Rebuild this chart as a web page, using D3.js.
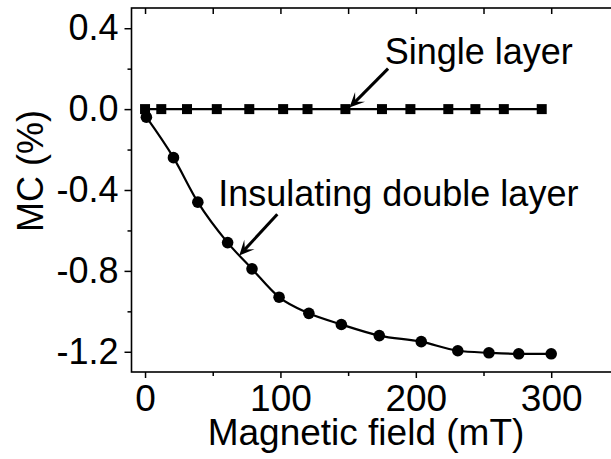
<!DOCTYPE html>
<html>
<head>
<meta charset="utf-8">
<script src="https://d3js.org/d3.v7.min.js"></script>
<style>
  body { margin: 0; background: #fff; }
  text { font-family: "Liberation Sans", Arial, sans-serif; fill: #000; }
</style>
</head>
<body>
<div id="chart"></div>
<script>
// single layer: MC stays at zero
var singleField = [0, 12, 31, 53, 77, 102, 120, 148, 175, 196, 224, 244, 265, 293];
var singleMC = [0, 0, 0, 0, 0, 0, 0, 0, 0, 0, 0, 0, 0, 0];

// insulating double layer
var doubleField = [1, 21, 39, 61, 79, 99, 121, 145, 173, 204, 231, 254, 276, 300];
var doubleMC = [-0.04, -0.24, -0.46, -0.66, -0.79, -0.93, -1.01, -1.065, -1.12, -1.15, -1.195, -1.205, -1.21, -1.21];

var xTicks = [0, 100, 200, 300];
var xMinor = [50, 150, 250];
var yTicks = [-1.2, -0.8, -0.4, 0.0, 0.4];
var yMinor = [-1.0, -0.6, -0.2, 0.2];

var width = 611, height = 459;

var x = d3.scaleLinear().domain([-10, 350]).range([131.5, 618.9]);
var y = d3.scaleLinear().domain([-1.3, 0.5]).range([372, 8]);

var svg = d3.select("#chart").append("svg")
    .attr("width", width)
    .attr("height", height);

// frame
svg.append("rect")
    .attr("x", x(-10))
    .attr("y", y(0.5))
    .attr("width", x(350) - x(-10))
    .attr("height", y(-1.3) - y(0.5))
    .attr("fill", "none")
    .attr("stroke", "#000")
    .attr("stroke-width", 1.6);

// bottom axis
var bottomAxis = d3.axisBottom(x)
    .tickValues(xTicks)
    .tickSize(6)
    .tickFormat(d3.format("d"));
var gx = svg.append("g")
    .attr("transform", `translate(0, ${y(-1.3)})`)
    .call(bottomAxis);
gx.select(".domain").remove();
gx.selectAll("line").attr("stroke-width", 1.5);
gx.selectAll("text")
    .attr("font-size", 37)
    .attr("dy", null)
    .attr("y", 38.5);

svg.append("g")
    .attr("transform", `translate(0, ${y(-1.3)})`)
    .call(d3.axisBottom(x).tickValues(xMinor).tickSize(4).tickFormat(""))
    .call(g => g.select(".domain").remove())
    .selectAll("line").attr("stroke-width", 1.5);

// top inner ticks
svg.append("g")
    .attr("transform", `translate(0, ${y(0.5)})`)
    .call(d3.axisBottom(x).tickValues(xTicks.concat(xMinor)).tickSize(6).tickFormat(""))
    .call(g => g.select(".domain").remove())
    .selectAll("line").attr("stroke-width", 1.5);

// left axis
var leftAxis = d3.axisLeft(y)
    .tickValues(yTicks)
    .tickSize(7)
    .tickPadding(6)
    .tickFormat(d3.format(".1f"));
var gy = svg.append("g")
    .attr("transform", `translate(${x(-10)}, 0)`)
    .call(leftAxis);
gy.select(".domain").remove();
gy.selectAll("line").attr("stroke-width", 1.5);
gy.selectAll("text")
    .attr("font-size", 36)
    .text(d => d3.format(".1f")(d).replace("−", "-"));

svg.append("g")
    .attr("transform", `translate(${x(-10)}, 0)`)
    .call(d3.axisLeft(y).tickValues(yMinor).tickSize(4).tickFormat(""))
    .call(g => g.select(".domain").remove())
    .selectAll("line").attr("stroke-width", 1.5);

// axis titles
svg.append("text")
    .attr("x", 366)
    .attr("y", 445)
    .attr("text-anchor", "middle")
    .attr("font-size", 37)
    .text("Magnetic field (mT)");

svg.append("text")
    .attr("transform", "translate(43, 171) rotate(-90)")
    .attr("text-anchor", "middle")
    .attr("font-size", 36)
    .text("MC (%)");

// series
var singleData = singleField.map((f, i) => ({ f: f, mc: singleMC[i] }));
var doubleData = doubleField.map((f, i) => ({ f: f, mc: doubleMC[i] }));

svg.append("path")
    .datum(singleData)
    .attr("fill", "none")
    .attr("stroke", "#000")
    .attr("stroke-width", 2.2)
    .attr("d", d3.line().x(d => x(d.f)).y(d => y(d.mc)));

svg.append("path")
    .datum(doubleData)
    .attr("fill", "none")
    .attr("stroke", "#000")
    .attr("stroke-width", 2.2)
    .attr("d", d3.line().curve(d3.curveMonotoneX).x(d => x(d.f)).y(d => y(d.mc)));

var sq = 10;
svg.append("g")
    .selectAll("rect")
    .data(singleData)
    .enter()
    .append("rect")
    .attr("x", d => x(d.f) - sq / 2)
    .attr("y", d => y(d.mc) - sq / 2)
    .attr("width", sq)
    .attr("height", sq)
    .attr("fill", "#000");

svg.append("g")
    .selectAll("circle")
    .data(doubleData)
    .enter()
    .append("circle")
    .attr("cx", d => x(d.f))
    .attr("cy", d => y(d.mc))
    .attr("r", 5.8)
    .attr("fill", "#000");

// annotations
var labels = [
    { text: "Single layer", f: 177, mc: 0.225 },
    { text: "Insulating double layer", f: 54, mc: -0.478 }
];
var arrows = [
    { f0: 179.5, mc0: 0.2, f1: 151, mc1: 0.008 },
    { f0: 97.7, mc0: -0.52, f1: 69.6, mc1: -0.724 }
];

svg.append("g")
    .selectAll("text")
    .data(labels)
    .enter()
    .append("text")
    .attr("x", d => x(d.f))
    .attr("y", d => y(d.mc))
    .attr("font-size", 36)
    .text(d => d.text);

arrows.forEach(function(a) {
    var x0 = x(a.f0), y0 = y(a.mc0), x1 = x(a.f1), y1 = y(a.mc1);
    var ang = Math.atan2(y1 - y0, x1 - x0);
    var headLen = 15, headW = 7;
    var bx = x1 - headLen * Math.cos(ang), by = y1 - headLen * Math.sin(ang);
    svg.append("line")
        .attr("x1", x0).attr("y1", y0)
        .attr("x2", x1 - 8 * Math.cos(ang)).attr("y2", y1 - 8 * Math.sin(ang))
        .attr("stroke", "#000")
        .attr("stroke-width", 3);
    var px = -Math.sin(ang), py = Math.cos(ang);
    svg.append("path")
        .attr("d", `M${x1},${y1}L${bx + headW * px},${by + headW * py}L${x1 - 0.55 * headLen * Math.cos(ang)},${y1 - 0.55 * headLen * Math.sin(ang)}L${bx - headW * px},${by - headW * py}Z`)
        .attr("fill", "#000");
});
</script>
</body>
</html>
